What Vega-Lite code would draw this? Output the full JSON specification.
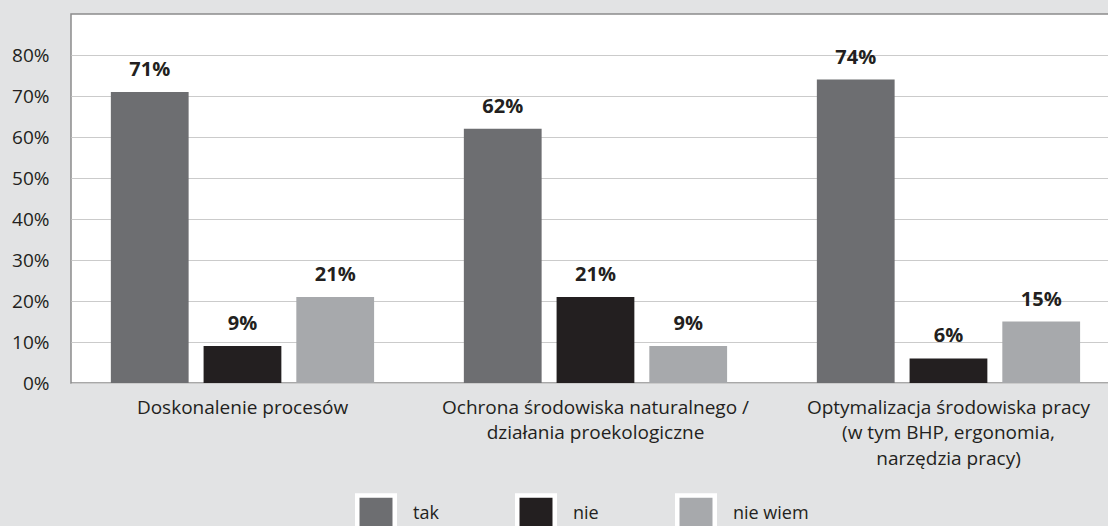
{
  "$schema": "https://vega.github.io/schema/vega-lite/v6.json",
  "width": 1059,
  "height": 369,
  "autosize": {"type": "none"},
  "padding": {"left": 71, "top": 14, "right": -22, "bottom": 143},
  "background": "#e2e3e4",
  "config": {
    "view": {"fill": "white", "stroke": "#8c8c8c", "strokeWidth": 1.5},
    "font": "Open Sans"
  },
  "data": {
    "values": [
      {"cat": "Doskonalenie procesów", "series": "tak", "v": 0.71},
      {"cat": "Doskonalenie procesów", "series": "nie", "v": 0.09},
      {"cat": "Doskonalenie procesów", "series": "nie wiem", "v": 0.21},
      {"cat": "Ochrona środowiska naturalnego /|działania proekologiczne", "series": "tak", "v": 0.62},
      {"cat": "Ochrona środowiska naturalnego /|działania proekologiczne", "series": "nie", "v": 0.21},
      {"cat": "Ochrona środowiska naturalnego /|działania proekologiczne", "series": "nie wiem", "v": 0.09},
      {"cat": "Optymalizacja środowiska pracy|(w tym BHP, ergonomia,|narzędzia pracy)", "series": "tak", "v": 0.74},
      {"cat": "Optymalizacja środowiska pracy|(w tym BHP, ergonomia,|narzędzia pracy)", "series": "nie", "v": 0.06},
      {"cat": "Optymalizacja środowiska pracy|(w tym BHP, ergonomia,|narzędzia pracy)", "series": "nie wiem", "v": 0.15}
    ]
  },
  "encoding": {
    "x": {
      "field": "cat",
      "type": "nominal",
      "sort": null,
      "title": null,
      "scale": {"paddingInner": 0, "paddingOuter": 0},
      "axis": {
        "domain": false,
        "ticks": false,
        "labelAngle": 0,
        "labelPadding": 15,
        "labelOffset": -5,
        "labelFontSize": 19,
        "labelLineHeight": 25.5,
        "labelBaseline": "top",
        "labelColor": "#231f20",
        "labelLimit": 400,
        "labelExpr": "split(datum.label, '|')"
      }
    },
    "xOffset": {
      "field": "series",
      "type": "nominal",
      "sort": ["tak", "nie", "nie wiem"],
      "scale": {"paddingInner": 0.1613, "paddingOuter": 0.4839, "align": 0.444}
    },
    "y": {
      "field": "v",
      "type": "quantitative",
      "title": null,
      "scale": {"domain": [0, 0.9], "nice": false},
      "axis": {
        "values": [0, 0.1, 0.2, 0.3, 0.4, 0.5, 0.6, 0.7, 0.8],
        "format": ".0%",
        "domain": false,
        "ticks": false,
        "grid": true,
        "gridColor": "#cbcbcb",
        "gridWidth": 1.2,
        "labelPadding": 22,
        "labelFontSize": 19,
        "labelColor": "#231f20"
      }
    }
  },
  "layer": [
    {
      "mark": {"type": "bar"},
      "encoding": {
        "color": {
          "field": "series",
          "type": "nominal",
          "scale": {"domain": ["tak", "nie", "nie wiem"], "range": ["#6d6e71", "#231f20", "#a7a9ac"]},
          "legend": {
            "title": null,
            "orient": "none",
            "legendX": 284,
            "legendY": 479,
            "direction": "horizontal",
            "columns": 3,
            "gridAlign": "all",
            "columnPadding": 19,
            "padding": 0,
            "symbolType": "square",
            "symbolSize": 1406,
            "symbolStrokeColor": "white",
            "symbolStrokeWidth": 4.5,
            "symbolOpacity": 1,
            "labelFontSize": 18,
            "labelOffset": 16,
            "labelColor": "#231f20"
          }
        }
      }
    },
    {
      "mark": {"type": "text", "baseline": "alphabetic", "dy": -16, "fontWeight": "bold", "fontSize": 20, "color": "#231f20"},
      "encoding": {"text": {"field": "v", "type": "quantitative", "format": ".0%"}}
    }
  ]
}
